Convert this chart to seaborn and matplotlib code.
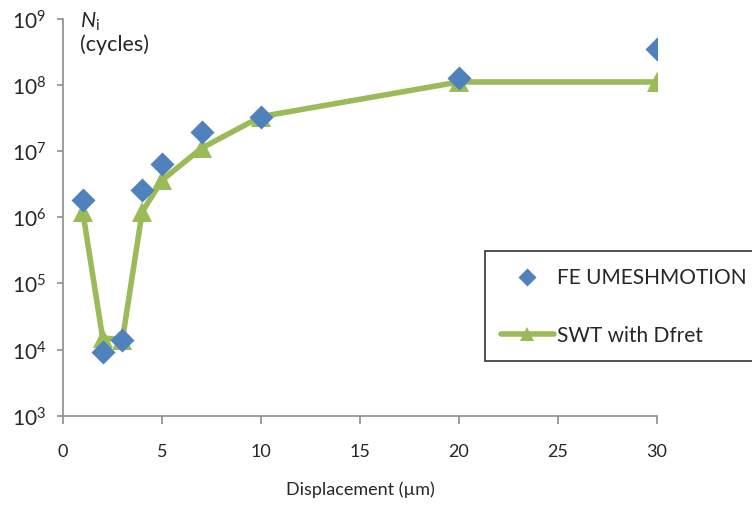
import matplotlib
matplotlib.use("Agg")
import matplotlib.pyplot as plt
from matplotlib.ticker import FixedLocator, NullLocator
import seaborn as sns
import pandas as pd

# Displacement amplitude (µm) and cycles to crack initiation
disp_fe = [1, 2, 3, 4, 5, 7, 10, 20, 30]
cycles_fe = [1.8e6, 9.1e3, 1.4e4, 2.6e6, 6.3e6, 1.9e7, 3.2e7, 1.26e8, 3.5e8]

disp_swt = [1, 2, 3, 4, 5, 7, 10, 20, 30]
cycles_swt = [1.2e6, 1.5e4, 1.4e4, 1.2e6, 3.6e6, 1.1e7, 3.3e7, 1.1e8, 1.1e8]

x_ticks = [0, 5, 10, 15, 20, 25, 30]
y_exponents = [3, 4, 5, 6, 7, 8, 9]

label_fe = "FE UMESHMOTION"
label_swt = "SWT with Dfret"

BLUE = "#4F81BD"
GREEN = "#9BBB59"
AXIS_GREY = "#8C8C8C"

sns.set_style("white")
plt.rcParams["font.family"] = ["Lato", "DejaVu Sans"]
plt.rcParams["mathtext.fontset"] = "custom"
plt.rcParams["mathtext.rm"] = "Lato"
plt.rcParams["mathtext.it"] = "Lato:italic"

fig = plt.figure(figsize=(7.52, 5.06), dpi=100)
ax = fig.add_axes([63 / 752, 1 - 416.7 / 506, (657 - 63) / 752, (416.7 - 19.5) / 506])

df_fe = pd.DataFrame({"disp": disp_fe, "cycles": cycles_fe})
df_swt = pd.DataFrame({"disp": disp_swt, "cycles": cycles_swt})

sns.lineplot(data=df_swt, x="disp", y="cycles", ax=ax, color=GREEN, linewidth=4.0,
             marker="^", markersize=14, markeredgewidth=0, markerfacecolor=GREEN,
             label=label_swt, zorder=2)
sns.scatterplot(data=df_fe, x="disp", y="cycles", ax=ax, color=BLUE, marker="D",
                s=150, linewidth=0, label=label_fe, zorder=3)

ax.set_yscale("log")
ax.set_xlim(0, 30)
ax.set_ylim(1e3, 1e9)
ax.xaxis.set_major_locator(FixedLocator(x_ticks))
ax.yaxis.set_major_locator(FixedLocator([10.0 ** e for e in y_exponents]))
ax.yaxis.set_minor_locator(NullLocator())
ax.set_xticklabels([str(t) for t in x_ticks], fontsize=13)
ax.set_yticklabels([rf"$10^{{{e}}}$" for e in y_exponents], fontsize=15)

for side in ("top", "right"):
    ax.spines[side].set_visible(False)
for side in ("left", "bottom"):
    ax.spines[side].set_color(AXIS_GREY)
    ax.spines[side].set_linewidth(1.2)

ax.tick_params(axis="x", direction="out", length=6, width=1.2, color=AXIS_GREY,
               pad=14, bottom=True)
ax.tick_params(axis="y", direction="out", length=4, width=1.2, color=AXIS_GREY,
               pad=8, left=True)

ax.set_xlabel("Displacement (µm)", fontsize=13, labelpad=15)
ax.set_ylabel("")

fig.text(80 / 752, 1 - 11 / 506, r"$N_{\mathrm{i}}$", fontsize=15.5, va="top", ha="left")
fig.text(80 / 752, 1 - 34 / 506, "(cycles)", fontsize=15.5, va="top", ha="left")

handles, labels = ax.get_legend_handles_labels()
order = [labels.index(label_fe), labels.index(label_swt)]
leg = ax.legend([handles[i] for i in order], [labels[i] for i in order],
                loc="upper left", bbox_to_anchor=(485 / 752, 1 - 252 / 506),
                bbox_transform=fig.transFigure, frameon=True, fancybox=False,
                edgecolor="black", fontsize=15, handlelength=2.55,
                handletextpad=0.15, borderpad=0.75, labelspacing=1.85,
                borderaxespad=0, markerscale=0.75)
leg.get_frame().set_linewidth(1.2)

fig.savefig("out.png", dpi=100)
